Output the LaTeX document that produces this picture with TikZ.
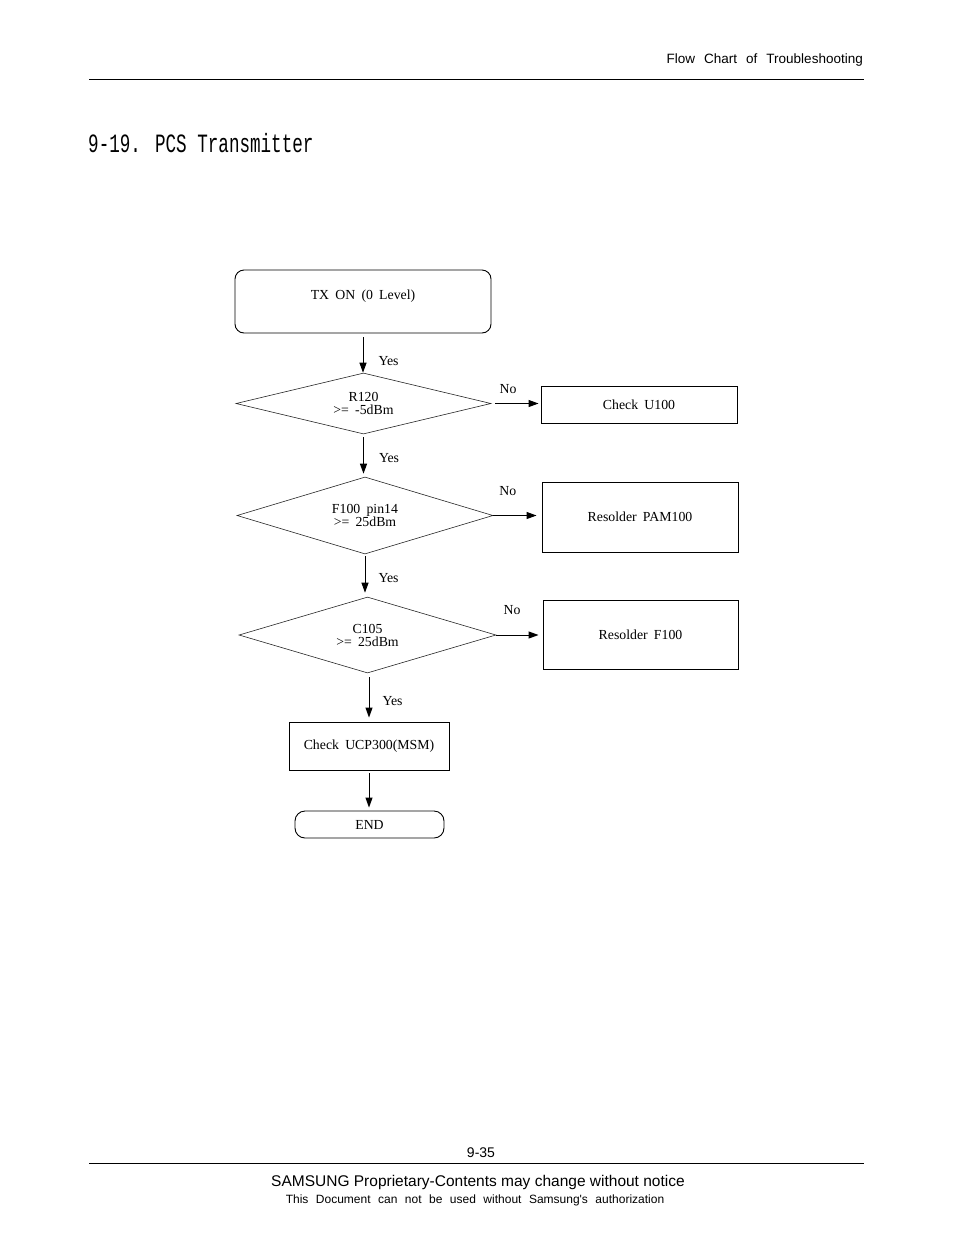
\documentclass[tikz,border=0pt]{standalone}
\usepackage{graphicx}
\usepackage{fontspec}
\setmainfont{Liberation Serif}
\newfontfamily\dfont{Liberation Serif}[WordSpace=1.8]
\newfontfamily\sansf{Liberation Sans}
\newfontfamily\tfont{Liberation Mono}
\usetikzlibrary{shapes.geometric,arrows.meta}
\begin{document}
\begin{tikzpicture}[x=1pt,y=-1pt,
  txt/.style={font=\dfont\fontsize{13.8pt}{13pt}\selectfont, align=center},
  box/.style={txt, draw, line width=0.9pt, inner sep=0pt},
  dec/.style={txt, draw=black!85, diamond, aspect=4, line width=0.6pt, inner sep=0pt},
  arr/.style={line width=1pt, -{Triangle[length=10pt,width=7pt]}},
  lbl/.style={txt, inner sep=0pt},
  rule/.style={line width=0.8pt},
]
\useasboundingbox (0,0) rectangle (954,1235);

% header
\node[anchor=base east, inner sep=0pt, font=\sansf\fontsize{13.5pt}{16pt}\selectfont] (hdr) at (863,63) {\spaceskip=9pt Flow Chart of Troubleshooting};
\draw[rule] (89,79) -- (864,79);

% title
\node[anchor=base west, inner sep=0pt] (title) at (88,152) {\tfont\fontsize{17.6pt}{20pt}\selectfont\scalebox{1}[1.5]{9-19. PCS Transmitter}};

% footer
\node[anchor=base, inner sep=0pt, font=\sansf\fontsize{14pt}{16pt}\selectfont] (pg) at (481,1157) {9-35};
\draw[rule] (89,1163) -- (864,1163);
\node[anchor=base, inner sep=0pt, font=\sansf\fontsize{15.5pt}{17pt}\selectfont] (f1) at (478,1186) {SAMSUNG Proprietary-Contents may change without notice};
\node[anchor=base, inner sep=0pt, font=\sansf\fontsize{12pt}{14pt}\selectfont] (f2) at (475,1203) {\spaceskip=7.5pt This Document can not be used without Samsung's authorization};

% flowchart nodes
\node[box, rounded corners=9pt, minimum width=256pt, minimum height=63pt, text height=9pt, text depth=14pt] (start) at (363,301.5) {TX ON (0 Level)};
\node[dec, minimum width=255pt, minimum height=61pt] (d1) at (363.5,403.5) {R120\\>= -5dBm};
\node[box, minimum width=196pt, minimum height=37pt] (u100) at (639,404.5) {Check U100};
\node[dec, minimum width=256pt, minimum height=77pt] (d2) at (365,515.5) {F100 pin14\\>= 25dBm};
\node[box, minimum width=196pt, minimum height=70pt] (pam) at (640,517) {Resolder PAM100};
\node[dec, minimum width=257pt, minimum height=76pt] (d3) at (367.5,635) {C105\\>= 25dBm};
\node[box, minimum width=195pt, minimum height=69pt] (f100) at (640.5,634.5) {Resolder F100};
\node[box, minimum width=160pt, minimum height=48pt] (ucp) at (369,746) {Check UCP300(MSM)};
\node[box, rounded corners=10pt, minimum width=149pt, minimum height=27pt] (end) at (369.5,824.5) {END};

% connectors
\draw[arr, shorten <=4pt] (start.south) -- (start.south |- d1.north)
  node[lbl, pos=0.7, anchor=west, xshift=15pt] {Yes};
\draw[arr, shorten <=3pt, shorten >=3pt] (d1.south) -- (d1.south |- d2.north)
  node[lbl, pos=0.56, anchor=west, xshift=15pt] {Yes};
\draw[arr, shorten <=2pt, shorten >=4pt] (d2.south) -- (d2.south |- d3.north)
  node[lbl, pos=0.56, anchor=west, xshift=13pt] {Yes};
\draw[arr, shorten <=4pt, shorten >=4pt] (d3.south -| ucp.north) -- (ucp.north)
  node[lbl, pos=0.57, anchor=west, xshift=13pt] {Yes};
\draw[arr, shorten <=3pt, shorten >=3pt] (ucp.south) -- (ucp.south |- end.north);

\draw[arr, shorten <=4pt, shorten >=2pt] (d1.east) -- (d1.east -| u100.west)
  node[lbl, pos=0.34, anchor=base, yshift=10pt] {No};
\draw[arr, shorten >=5pt] (d2.east) -- (d2.east -| pam.west)
  node[lbl, pos=0.3, anchor=base, yshift=20pt] {No};
\draw[arr, shorten >=4pt] (d3.east) -- (d3.east -| f100.west)
  node[lbl, pos=0.34, anchor=base, yshift=21pt] {No};
\end{tikzpicture}
\end{document}
